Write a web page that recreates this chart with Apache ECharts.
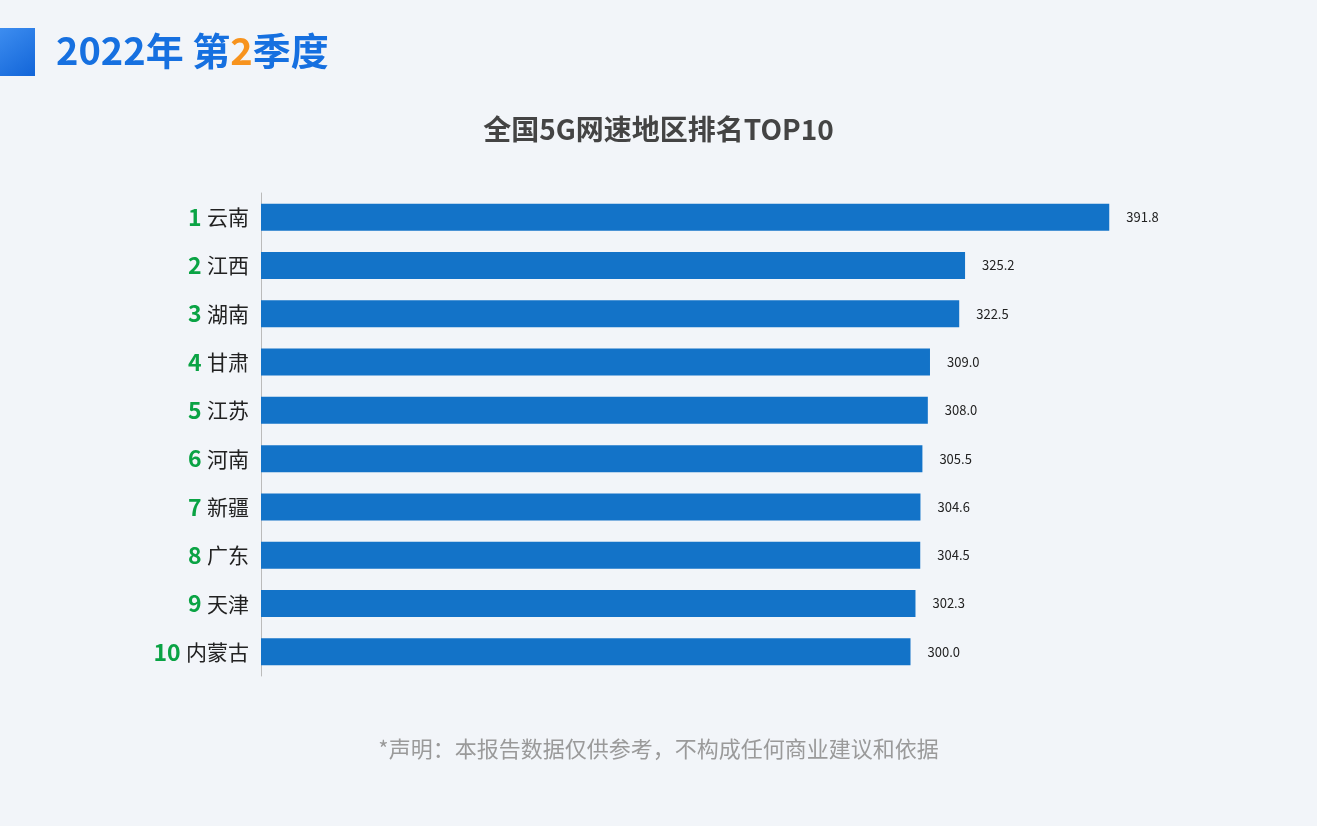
<html>
<head>
<meta charset="utf-8">
<script src="https://cdn.jsdelivr.net/npm/echarts@6/dist/echarts.min.js"></script>
<style>body{margin:0;background:#f2f5f9;}</style>
</head>
<body>
<div id="chartmain" style="width:1317px;height:826px;"></div>
<script type="text/javascript">
var ranks = ['1', '2', '3', '4', '5', '6', '7', '8', '9', '10'];
var regions = ['云南', '江西', '湖南', '甘肃', '江苏', '河南', '新疆', '广东', '天津', '内蒙古'];
var speeds = [391.8, 325.2, 322.5, 309.0, 308.0, 305.5, 304.6, 304.5, 302.3, 300.0];

var font = '"Noto Sans CJK SC", "Noto Sans", sans-serif';
var cats = [];
for (var i = 0; i < regions.length; i++) {
    cats.push(ranks[i] + '|' + regions[i]);
}

var myChart = echarts.init(document.getElementById('chartmain'));
myChart.setOption({
    backgroundColor: '#f2f5f9',
    textStyle: {fontFamily: font},
    title: [{
        text: '全国5G网速地区排名TOP10',
        left: 'center', top: 110,
        textStyle: {fontSize: 28, fontWeight: 'bold', color: '#444', fontFamily: font}
    }, {
        text: '*声明：本报告数据仅供参考，不构成任何商业建议和依据',
        left: 'center', top: 733,
        textStyle: {fontSize: 22, fontWeight: 'normal', color: '#9a9a9a', fontFamily: font}
    }, {
        text: '{a|2022年 第}{b|2}{a|季度}',
        left: 51, top: 27,
        textStyle: {
            fontFamily: font,
            rich: {
                a: {fontSize: 38, fontWeight: 'bold', color: '#1670e0', fontFamily: font},
                b: {fontSize: 38, fontWeight: 'bold', color: '#f7931e', fontFamily: font}
            }
        }
    }],
    graphic: [{
        type: 'rect', left: 0, top: 28,
        shape: {width: 35, height: 48},
        style: {fill: new echarts.graphic.LinearGradient(0, 0, 1, 1, [
            {offset: 0, color: '#3d8df0'}, {offset: 1, color: '#1265d8'}])}
    }],
    grid: {left: 261, right: 190, top: 193, bottom: 150, containLabel: false},
    xAxis: {
        type: 'value', min: 0, max: 400, show: false
    },
    yAxis: {
        type: 'category',
        inverse: true,
        data: cats,
        axisTick: {show: false},
        axisLine: {show: true, lineStyle: {color: '#bbb', width: 1}},
        axisLabel: {
            margin: 12,
            formatter: function (v) {
                var p = v.split('|');
                return '{n|' + p[0] + '}  {r|' + p[1] + '}';
            },
            rich: {
                n: {fontSize: 23, fontWeight: 'bold', color: '#0aa344', fontFamily: font},
                r: {fontSize: 21, color: '#222', fontFamily: font}
            }
        }
    },
    series: [{
        type: 'bar',
        data: speeds,
        barWidth: 27,
        itemStyle: {color: '#1373c8'},
        label: {
            show: true, position: 'right', distance: 17,
            color: '#222', fontSize: 13, fontFamily: font,
            formatter: function (p) { return p.value.toFixed(1); }
        }
    }]
});
</script>
</body>
</html>
